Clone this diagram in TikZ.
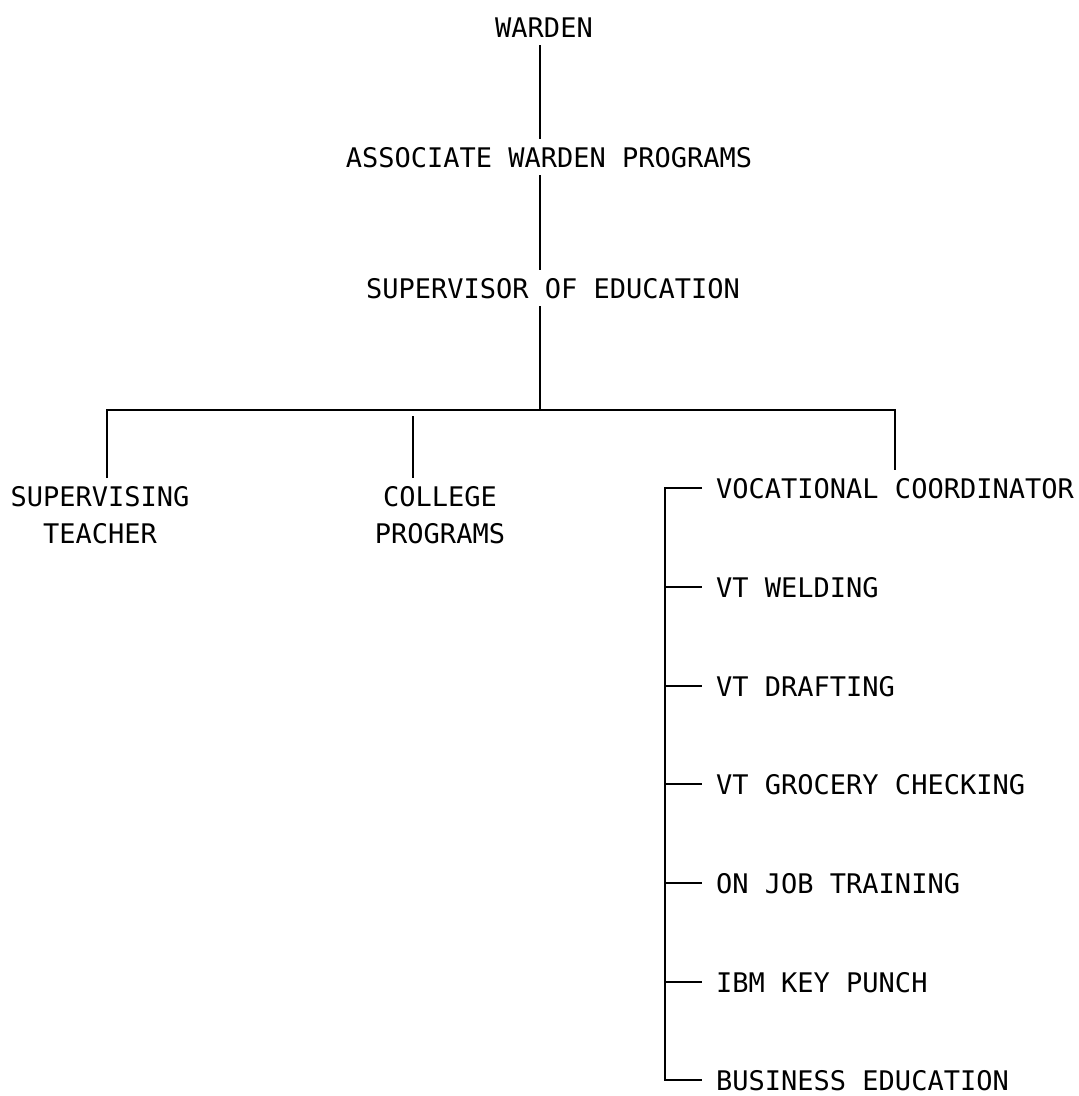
\documentclass[tikz,border=0pt]{standalone}
\usepackage{fontspec}
\newfontfamily\chartfont{DejaVu Sans Mono}
\tikzset{
  post/.style={font=\chartfont\fontsize{27}{36}\selectfont, inner xsep=14pt, inner ysep=8pt, text height=20pt, text depth=0pt},
  post2/.style={font=\chartfont\fontsize{27}{37}\selectfont, inner xsep=14pt, inner ysep=8pt, align=center, anchor=north},
  link/.style={line width=2pt}
}
\begin{document}
\begin{tikzpicture}[x=1pt,y=-1pt]
      \useasboundingbox (0,0) rectangle (1079,1096);
      % top of the chart
      \node[post] (warden) at (544,27) {WARDEN};
      \node[post] (assoc) at (549,157) {ASSOCIATE WARDEN PROGRAMS};
      \node[post] (sup) at (553,288) {SUPERVISOR OF EDUCATION};
      \coordinate (trunk) at (540,0);
      \coordinate (barL) at (107,410);
      \coordinate (cdrop) at (413,416);
      \coordinate (spine) at (665,0);
      % second level
      \node[post2] (teacher) at (100,478) {SUPERVISING\\TEACHER};
      \node[post2] (college) at (440,478) {COLLEGE\\PROGRAMS};
      % vocational column
      \node[post,anchor=west] (voc) at (702,488) {VOCATIONAL COORDINATOR};
      \node[post,anchor=west] (weld) at (702,587) {VT WELDING};
      \node[post,anchor=west] (draft) at (702,686) {VT DRAFTING};
      \node[post,anchor=west] (groc) at (702,784) {VT GROCERY CHECKING};
      \node[post,anchor=west] (ojt) at (702,883) {ON JOB TRAINING};
      \node[post,anchor=west] (ibm) at (702,982) {IBM KEY PUNCH};
      \node[post,anchor=west] (bus) at (702,1080) {BUSINESS EDUCATION};
      % connectors
      \draw[link] (warden.south -| trunk) -- (assoc.north -| trunk);
      \draw[link] (assoc.south -| trunk) -- (sup.north -| trunk);
      \draw[link] (sup.south -| trunk) -- (trunk |- barL);
      \draw[link] (teacher.north -| barL) -- (barL) -- (voc.north |- barL) -- (voc.north);
      \draw[link] (cdrop) -- (cdrop |- college.north);
      \draw[link] (voc.west) -- (voc.west -| spine) -- (bus.west -| spine) -- (bus.west);
      \foreach \n in {weld,draft,groc,ojt,ibm}
        \draw[link] (\n.west -| spine) -- (\n.west);
    \end{tikzpicture}
\end{document}
